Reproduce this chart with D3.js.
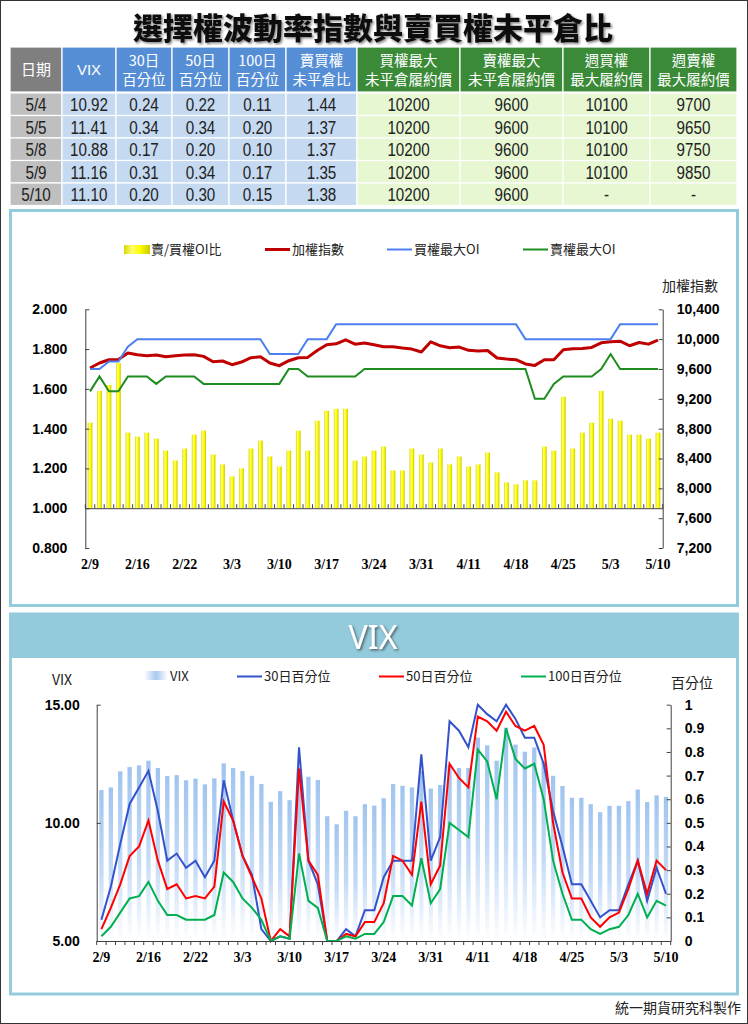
<!DOCTYPE html>
<html><head><meta charset="utf-8">
<script src="https://cdn.jsdelivr.net/npm/d3@7"></script>
<style>body{margin:0;background:#fff}svg{display:block}</style>
</head><body>
<svg id="c" width="748" height="1024"></svg>
<script>
// ---------- DATA ----------
const dates = ["2/9","2/10","2/13","2/14","2/15","2/16","2/17","2/18","2/20","2/21","2/22","2/23","2/24",
"3/1","3/2","3/3","3/6","3/7","3/8","3/9","3/10","3/13","3/14","3/15","3/16","3/17","3/20","3/21","3/22","3/23","3/24","3/27","3/28","3/29","3/30","3/31",
"4/5","4/6","4/7","4/10","4/11","4/12","4/13","4/14","4/17","4/18","4/19","4/20","4/21","4/24","4/25","4/26","4/27","4/28",
"5/2","5/3","5/4","5/5","5/8","5/9","5/10"];
const tickDates = ["2/9","2/16","2/22","3/3","3/10","3/17","3/24","3/31","4/11","4/18","4/25","5/3","5/10"];

const ratio = [1.43,1.59,1.62,1.73,1.38,1.36,1.38,1.35,1.29,1.24,1.30,1.37,1.39,1.27,1.22,1.16,1.20,1.30,1.34,1.26,
1.21,1.29,1.39,1.29,1.44,1.49,1.50,1.50,1.24,1.26,1.29,1.31,1.19,1.19,1.30,1.27,1.23,1.30,1.22,1.26,
1.21,1.22,1.28,1.18,1.13,1.12,1.14,1.14,1.31,1.29,1.56,1.30,1.38,1.43,1.59,1.45,1.44,1.37,1.37,1.35,1.38];
const taiex = [9613,9680,9724,9728,9813,9791,9777,9787,9764,9777,9787,9791,9769,9697,9707,9657,9693,9751,9764,9680,
9644,9711,9751,9755,9848,9924,9937,9991,9933,9947,9924,9897,9897,9880,9867,9827,9964,9911,9884,9893,
9850,9840,9848,9747,9733,9724,9667,9648,9724,9724,9857,9871,9875,9889,9951,9964,9973,9911,9955,9933,9987];
const callMaxOI = [9600,9600,9700,9700,9900,10000,10000,10000,10000,10000,10000,10000,10000,10000,10000,10000,10000,10000,10000,9800,
9800,9800,9800,10000,10000,10000,10200,10200,10200,10200,10200,10200,10200,10200,10200,10200,10200,10200,10200,10200,
10200,10200,10200,10200,10200,10200,10000,10000,10000,10000,10000,10000,10000,10000,10000,10000,10200,10200,10200,10200,10200];
const putMaxOI = [9300,9500,9300,9300,9500,9500,9500,9400,9500,9500,9500,9500,9400,9400,9400,9400,9400,9400,9400,9400,
9400,9600,9600,9500,9500,9500,9500,9500,9500,9600,9600,9600,9600,9600,9600,9600,9600,9600,9600,9600,
9600,9600,9600,9600,9600,9600,9600,9200,9200,9400,9500,9500,9500,9500,9600,9800,9600,9600,9600,9600,9600];

const vix = [11.39,11.50,12.18,12.36,12.43,12.63,12.32,11.98,12.02,11.80,11.87,11.63,11.88,12.52,12.32,12.19,11.99,11.64,10.89,11.34,
10.96,12.30,11.95,11.81,10.28,9.94,10.51,10.28,10.79,10.73,11.04,11.64,11.57,11.50,12.20,11.45,11.60,12.45,12.32,12.32,
13.61,13.28,12.63,14.03,13.31,13.01,13.19,12.60,11.99,11.56,11.06,11.06,10.79,10.45,10.72,10.72,10.92,11.41,10.88,11.16,11.10];
const pct30 = [0.09,0.23,0.41,0.58,0.65,0.72,0.55,0.34,0.37,0.31,0.34,0.27,0.34,0.68,0.51,0.36,0.28,0.05,0,0.02,
0.01,0.82,0.34,0.24,0,0,0.05,0.02,0.13,0.13,0.27,0.34,0.34,0.34,0.79,0.34,0.44,0.93,0.89,0.82,
1.0,0.96,0.93,1.0,0.94,0.86,0.86,0.75,0.55,0.40,0.24,0.24,0.17,0.10,0.13,0.13,0.24,0.34,0.17,0.31,0.20];
const pct50 = [0.05,0.14,0.24,0.36,0.40,0.51,0.34,0.22,0.24,0.18,0.19,0.18,0.23,0.59,0.51,0.36,0.27,0.18,0,0.05,
0.02,0.73,0.34,0.28,0,0,0.03,0.02,0.08,0.08,0.16,0.36,0.34,0.28,0.59,0.24,0.32,0.75,0.69,0.65,
0.95,0.93,0.89,0.97,0.91,0.89,0.91,0.83,0.50,0.29,0.18,0.18,0.10,0.06,0.10,0.12,0.22,0.34,0.20,0.34,0.30];
const pct100 = [0.02,0.06,0.12,0.18,0.19,0.25,0.17,0.11,0.11,0.09,0.09,0.09,0.11,0.29,0.25,0.18,0.14,0.09,0,0.02,
0.01,0.37,0.17,0.14,0,0,0.02,0.01,0.03,0.03,0.08,0.19,0.19,0.15,0.35,0.16,0.22,0.50,0.47,0.44,
0.81,0.76,0.60,0.90,0.77,0.73,0.75,0.60,0.34,0.20,0.09,0.09,0.05,0.03,0.05,0.06,0.11,0.20,0.10,0.17,0.15];

const leftTicks = [0.8,1.0,1.2,1.4,1.6,1.8,2.0];
const rightTicks = [7200,7600,8000,8400,8800,9200,9600,10000,10400];
const vixTicks = [5,10,15];
const pctTicks = [0,0.1,0.2,0.3,0.4,0.5,0.6,0.7,0.8,0.9,1];

const tHeaders = [["日期"],["VIX"],["30日","百分位"],["50日","百分位"],["100日","百分位"],["賣買權","未平倉比"],
  ["買權最大","未平倉履約價"],["賣權最大","未平倉履約價"],["週買權","最大履約價"],["週賣權","最大履約價"]];
const tDate = ["5/4","5/5","5/8","5/9","5/10"];
const tVix = ["10.92","11.41","10.88","11.16","11.10"];
const t30 = ["0.24","0.34","0.17","0.31","0.20"];
const t50 = ["0.22","0.34","0.20","0.34","0.30"];
const t100 = ["0.11","0.20","0.10","0.17","0.15"];
const tRatio = ["1.44","1.37","1.37","1.35","1.38"];
const tCallMax = ["10200","10200","10200","10200","10200"];
const tPutMax = ["9600","9600","9600","9600","9600"];
const tWkCall = ["10100","10100","10100","10100","-"];
const tWkPut = ["9700","9650","9750","9850","-"];

// ---------- SETUP ----------
const svg = d3.select("#c");
const CJK = "'Noto Sans CJK TC','Noto Sans',sans-serif";
const ARIAL = "'Liberation Sans',Arial,sans-serif";
const SERIF = "'Liberation Serif','Times New Roman',serif";

const defs = svg.append("defs");
const yg = defs.append("linearGradient").attr("id","yel").attr("x1",0).attr("x2",1).attr("y1",0).attr("y2",0);
[["0%","#d6d600"],["30%","#ffff70"],["60%","#ffff00"],["100%","#c8c800"]].forEach(s=>yg.append("stop").attr("offset",s[0]).attr("stop-color",s[1]));
const vgr = defs.append("linearGradient").attr("id","vixg").attr("x1",0).attr("x2",0).attr("y1",0).attr("y2",1);
[["0%","#a0c4ef"],["55%","#c4dbf6"],["100%","#ffffff"]].forEach(s=>vgr.append("stop").attr("offset",s[0]).attr("stop-color",s[1]));
const vgl = defs.append("linearGradient").attr("id","vixl").attr("x1",0).attr("x2",1).attr("y1",0).attr("y2",0);
[["0%","#ffffff"],["50%","#a8c8f0"],["100%","#ffffff"]].forEach(s=>vgl.append("stop").attr("offset",s[0]).attr("stop-color",s[1]));
const sh = defs.append("filter").attr("id","sh").attr("x","-10%").attr("y","-20%").attr("width","120%").attr("height","150%");
sh.append("feDropShadow").attr("dx",1.5).attr("dy",1.5).attr("stdDeviation",0.8).attr("flood-color","#666").attr("flood-opacity",0.8);
const sh2 = defs.append("filter").attr("id","sh2").attr("x","-20%").attr("y","-20%").attr("width","140%").attr("height","150%");
sh2.append("feDropShadow").attr("dx",1.5).attr("dy",1.5).attr("stdDeviation",1).attr("flood-color","#333").attr("flood-opacity",0.7);

svg.append("rect").attr("x",0.5).attr("y",0.5).attr("width",747).attr("height",1023).attr("fill","#fff").attr("stroke","#333");

// title
svg.append("text").attr("x",373).attr("y",39).attr("text-anchor","middle")
  .style("font-family",CJK).style("font-weight",900).style("font-size","30px").attr("fill","#111")
  .attr("filter","url(#sh)").text("選擇權波動率指數與賣買權未平倉比");

// ---------- TABLE ----------
const colX = [10,62,116,172,229,286,357,460,563,650,737];
const headTop = 47, headBot = 92;
const rowTops = [93,115.5,138,160.5,183,205.5];
const headFill = i => i===0 ? "#7f7f7f" : (i<=5 ? "#558ed5" : "#3a8a37");
const cellFill = i => i===0 ? "#bfbfbf" : (i<=5 ? "#c5d9f1" : "#e6f7d2");
const tbl = svg.append("g");
tHeaders.forEach((h,i)=>{
  tbl.append("rect").attr("x",colX[i]).attr("y",headTop).attr("width",colX[i+1]-colX[i]).attr("height",headBot-headTop)
    .attr("fill",headFill(i)).attr("stroke","#fff").attr("stroke-width",1.2);
  const cx = (colX[i]+colX[i+1])/2;
  if (h.length===1) {
    tbl.append("text").attr("x",cx).attr("y",75).attr("text-anchor","middle")
      .style("font-family", i===1?ARIAL:CJK).style("font-size","15px").attr("fill","#fff").text(h[0]);
  } else {
    h.forEach((t,k)=>tbl.append("text").attr("x",cx).attr("y",k===0?66:85).attr("text-anchor","middle")
      .style("font-family",CJK).style("font-size","14.5px").attr("fill","#fff").text(t));
  }
});
const cols = [tDate,tVix,t30,t50,t100,tRatio,tCallMax,tPutMax,tWkCall,tWkPut];
cols.forEach((col,i)=>{
  col.forEach((v,r)=>{
    tbl.append("rect").attr("x",colX[i]).attr("y",rowTops[r]).attr("width",colX[i+1]-colX[i]).attr("height",rowTops[r+1]-rowTops[r])
      .attr("fill",cellFill(i)).attr("stroke","#fff").attr("stroke-width",1.2);
    tbl.append("text").attr("transform",`translate(${(colX[i]+colX[i+1])/2},${rowTops[r]+18}) scale(0.8,1)`)
      .attr("text-anchor","middle")
      .style("font-family",ARIAL).style("font-size","19px").attr("fill","#222").text(v);
  });
});

// ---------- PANELS ----------
svg.append("rect").attr("x",10.5).attr("y",210.5).attr("width",727).attr("height",395).attr("fill","#fff").attr("stroke","#93cddd").attr("stroke-width",3);
svg.append("rect").attr("x",10.5).attr("y",614).attr("width",727).attr("height",380).attr("fill","#fff").attr("stroke","#93cddd").attr("stroke-width",3);
svg.append("rect").attr("x",10).attr("y",613).attr("width",728).attr("height",45).attr("fill","#93cbdc");
svg.append("text").attr("x",373).attr("y",649).attr("text-anchor","middle").style("font-family","'Noto Sans',sans-serif")
  .style("font-size","32px").attr("fill","#fff").attr("filter","url(#sh2)").text("VIX");

// ---------- TOP CHART ----------
const xT = d3.scaleBand().domain(dates).range([85.3,662.7]);
const bwT = xT.bandwidth();
const yL = d3.scaleLinear().domain([0.8,2.0]).range([548,309.3]);
const yR = d3.scaleLinear().domain([7200,10400]).range([548,309.3]);
const topG = svg.append("g");

topG.selectAll("rect.bar").data(ratio).join("rect").attr("class","bar")
  .attr("x",(d,i)=>xT(dates[i])+bwT*0.25).attr("width",bwT*0.5)
  .attr("y",d=>yL(d)).attr("height",d=>yL(1)-yL(d)).attr("fill","url(#yel)");

const xAxT = topG.append("g").attr("transform",`translate(0,${yL(1)})`)
  .call(d3.axisBottom(xT).tickValues(dates).tickSizeInner(0).tickSizeOuter(0).tickFormat(""));
xAxT.select(".domain").attr("stroke","#404040");
topG.selectAll("line.xtT").data(dates.concat(["__end"])).join("line").attr("class","xtT")
  .attr("x1",d=>d==="__end"?xT.range()[1]:xT(d)).attr("x2",d=>d==="__end"?xT.range()[1]:xT(d))
  .attr("y1",yL(1)).attr("y2",yL(1)-4).attr("stroke","#404040");

const lineT = arr => d3.line().x((d,i)=>xT(dates[i])+bwT/2).y(d=>yR(d))(arr);
topG.append("path").attr("d",lineT(taiex)).attr("fill","none").attr("stroke","#c00000").attr("stroke-width",3).attr("stroke-linejoin","round");
topG.append("path").attr("d",lineT(callMaxOI)).attr("fill","none").attr("stroke","#4d7ff0").attr("stroke-width",2);
topG.append("path").attr("d",lineT(putMaxOI)).attr("fill","none").attr("stroke","#1e8c1e").attr("stroke-width",2);

const axL = topG.append("g").attr("transform","translate(85.3,0)")
  .call(d3.axisLeft(yL).tickValues(leftTicks).tickFormat(d3.format(".3f")).tickSizeInner(-4).tickSizeOuter(0).tickPadding(18));
const axR = topG.append("g").attr("transform","translate(662.7,0)")
  .call(d3.axisRight(yR).tickValues(rightTicks).tickFormat(d3.format(",")).tickSizeInner(-4).tickSizeOuter(0).tickPadding(14));
[axL,axR].forEach(a=>{
  a.selectAll("path,line").attr("stroke","#404040");
  a.selectAll("text").style("font-family",ARIAL).style("font-weight",700).style("font-size","14px").attr("fill","#000");
});
const xlT = topG.append("g").attr("transform","translate(0,556)")
  .call(d3.axisBottom(xT).tickValues(tickDates).tickSize(0).tickPadding(0));
xlT.select(".domain").remove();
xlT.selectAll("text").style("font-family",SERIF).style("font-weight",700).style("font-size","14px").attr("fill","#000").attr("dy","0.9em");

topG.append("text").attr("x",690).attr("y",291).attr("text-anchor","middle").style("font-family",CJK).style("font-size","14px").attr("fill","#222").text("加權指數");

const lgT = topG.append("g").style("font-family",CJK).style("font-size","13px").attr("fill","#222");
lgT.append("rect").attr("x",124).attr("y",245).attr("width",26).attr("height",9).attr("fill","url(#yel)");
lgT.append("text").attr("x",151).attr("y",254).text("賣/買權OI比");
[[265,"#c00000",3,"加權指數"],[387,"#4d7ff0",2,"買權最大OI"],[523,"#1e8c1e",2,"賣權最大OI"]].forEach(l=>{
  lgT.append("line").attr("x1",l[0]).attr("x2",l[0]+25).attr("y1",249.5).attr("y2",249.5).attr("stroke",l[1]).attr("stroke-width",l[2]);
  lgT.append("text").attr("x",l[0]+27).attr("y",254).text(l[3]);
});

// ---------- VIX CHART ----------
const xV = d3.scaleBand().domain(dates).range([96.7,670.7]);
const bwV = xV.bandwidth();
const yV = d3.scaleLinear().domain([5,15]).range([941,704.7]);
const yP = d3.scaleLinear().domain([0,1]).range([941,704.7]);
const vixG = svg.append("g");

vixG.selectAll("rect.vb").data(vix).join("rect").attr("class","vb")
  .attr("x",(d,i)=>xV(dates[i])+bwV*0.27).attr("width",bwV*0.46)
  .attr("y",d=>yV(d)).attr("height",d=>yV(5)-yV(d)).attr("fill","url(#vixg)");

const lineV = arr => d3.line().x((d,i)=>xV(dates[i])+bwV/2).y(d=>yP(d))(arr);
vixG.append("path").attr("d",lineV(pct30)).attr("fill","none").attr("stroke","#3352cc").attr("stroke-width",2);
vixG.append("path").attr("d",lineV(pct50)).attr("fill","none").attr("stroke","#ff0000").attr("stroke-width",2);
vixG.append("path").attr("d",lineV(pct100)).attr("fill","none").attr("stroke","#00b050").attr("stroke-width",2);

const xAxV = vixG.append("g").attr("transform",`translate(0,${yV(5)})`)
  .call(d3.axisBottom(xV).tickValues(dates).tickSizeInner(0).tickSizeOuter(0).tickFormat(""));
xAxV.select(".domain").attr("stroke","#404040");
vixG.selectAll("line.xtV").data(dates.concat(["__end"])).join("line").attr("class","xtV")
  .attr("x1",d=>d==="__end"?xV.range()[1]:xV(d)).attr("x2",d=>d==="__end"?xV.range()[1]:xV(d))
  .attr("y1",yV(5)).attr("y2",yV(5)+4).attr("stroke","#404040");

const axVL = vixG.append("g").attr("transform","translate(96.7,0)")
  .call(d3.axisLeft(yV).tickValues(vixTicks).tickFormat(d3.format(".2f")).tickSizeInner(-4).tickSizeOuter(0).tickPadding(17));
const axVR = vixG.append("g").attr("transform","translate(670.7,0)")
  .call(d3.axisRight(yP).tickValues(pctTicks).tickFormat(d3.format("~g")).tickSizeInner(-4).tickSizeOuter(0).tickPadding(14));
[axVL,axVR].forEach(a=>{
  a.selectAll("path,line").attr("stroke","#404040");
  a.selectAll("text").style("font-family",ARIAL).style("font-weight",700).style("font-size","14px").attr("fill","#000");
});
const xlV = vixG.append("g").attr("transform","translate(0,949)")
  .call(d3.axisBottom(xV).tickValues(tickDates).tickSize(0).tickPadding(0));
xlV.select(".domain").remove();
xlV.selectAll("text").style("font-family",SERIF).style("font-weight",700).style("font-size","14px").attr("fill","#000").attr("dy","0.9em");

vixG.append("text").attr("x",62).attr("y",685).attr("text-anchor","middle").style("font-family",CJK).style("font-size","14px").attr("fill","#222").text("VIX");
vixG.append("text").attr("x",692).attr("y",688).attr("text-anchor","middle").style("font-family",CJK).style("font-size","14px").attr("fill","#222").text("百分位");

const lgV = vixG.append("g").style("font-family",CJK).style("font-size","13px").attr("fill","#222");
lgV.append("rect").attr("x",144).attr("y",671).attr("width",24).attr("height",9).attr("fill","url(#vixl)");
lgV.append("text").attr("x",170).attr("y",681).text("VIX");
[[237,"#3352cc","30日百分位"],[379,"#ff0000","50日百分位"],[521,"#00b050","100日百分位"]].forEach(l=>{
  lgV.append("line").attr("x1",l[0]).attr("x2",l[0]+25).attr("y1",676.5).attr("y2",676.5).attr("stroke",l[1]).attr("stroke-width",2);
  lgV.append("text").attr("x",l[0]+27).attr("y",681).text(l[2]);
});

svg.append("text").attr("x",741).attr("y",1013).attr("text-anchor","end").style("font-family",CJK).style("font-size","14px").attr("fill","#222").text("統一期貨研究科製作");
</script>
</body></html>
